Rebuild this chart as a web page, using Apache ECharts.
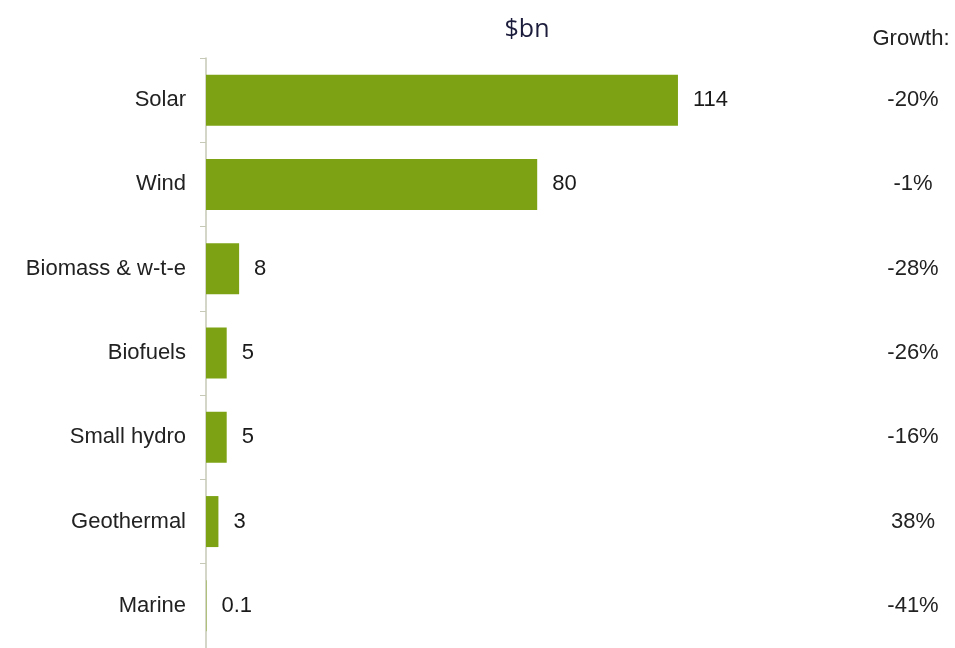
<!DOCTYPE html>
<html>
<head>
<meta charset="utf-8">
<script src="https://cdn.jsdelivr.net/npm/echarts@6/dist/echarts.min.js"></script>
<style>
  html, body { margin: 0; padding: 0; background: #fff; }
  #chart { width: 955px; height: 648px; }
</style>
</head>
<body>
<div id="chart"></div>
<script>
const categories = ['Solar', 'Wind', 'Biomass & w-t-e', 'Biofuels', 'Small hydro', 'Geothermal', 'Marine']
const values = [114, 80, 8, 5, 5, 3, 0.1]
const growth = ['-20%', '-1%', '-28%', '-26%', '-16%', '38%', '-41%']

const chart = echarts.init(document.getElementById('chart'))

const textFont = '"Liberation Sans", Arial, sans-serif'

const option = {
  backgroundColor: '#fff',
  animation: false,
  title: [
    {
      text: '$bn',
      left: 522,
      top: 12,
      textAlign: 'center',
      textStyle: { fontFamily: '"Open Sans", sans-serif', fontWeight: 'normal', fontSize: 25, color: '#1c1c3c' },
    },
    {
      text: 'Growth:',
      left: 906,
      top: 23,
      textAlign: 'center',
      textStyle: { fontFamily: textFont, fontWeight: 'normal', fontSize: 22, color: '#222' },
    },
  ],
  grid: {
    left: 206,
    right: 128,
    top: 58,
    bottom: -5,
    containLabel: false,
  },
  xAxis: {
    type: 'value',
    min: 0,
    max: 150,
    show: false,
  },
  yAxis: [
    {
      type: 'category',
      data: categories,
      inverse: true,
      axisLine: { lineStyle: { color: '#c6c9b6', width: 1.5 } },
      axisTick: { show: true, length: 6, lineStyle: { color: '#c6c9b6' } },
      axisLabel: { color: '#222', fontSize: 22, fontFamily: textFont, margin: 20 },
    },
    {
      type: 'category',
      data: growth,
      inverse: true,
      position: 'right',
      axisLine: { show: false },
      axisTick: { show: false },
      axisLabel: { color: '#222', fontSize: 22, fontFamily: textFont, margin: 86, align: 'center' },
    },
  ],
  series: [
    {
      type: 'bar',
      data: values,
      barWidth: 51,
      itemStyle: { color: '#7da314' },
      label: {
        show: true,
        position: 'right',
        distance: 15,
        color: '#1a1a1a',
        fontSize: 22,
        fontFamily: textFont,
      },
    },
  ],
}

chart.setOption(option)
window.addEventListener('resize', () => chart.resize())
</script>
</body>
</html>
